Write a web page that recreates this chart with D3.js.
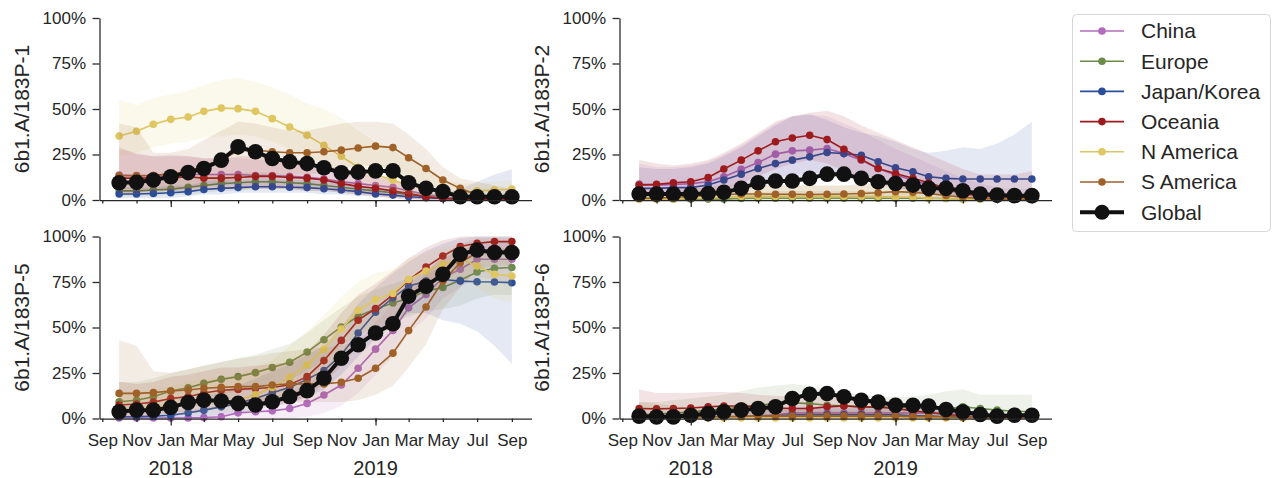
<!DOCTYPE html>
<html>
<head>
<meta charset="utf-8">
<script src="https://cdn.jsdelivr.net/npm/d3@7"></script>
<style>
  body { margin: 0; background: #fff; }
  svg { display: block; font-family: "Liberation Sans", Arial, sans-serif; }
</style>
</head>
<body>
<svg id="chart" width="1274" height="478"></svg>
<script>
// Sample months (one point per month)
const months = ["2017-10","2017-11","2017-12",
  "2018-01","2018-02","2018-03","2018-04","2018-05","2018-06","2018-07","2018-08","2018-09","2018-10","2018-11","2018-12",
  "2019-01","2019-02","2019-03","2019-04","2019-05","2019-06","2019-07","2019-08","2019-09"];

// x tick positions and labels
const tickMonths = ["2017-09","2017-11","2018-01","2018-03","2018-05","2018-07","2018-09","2018-11","2019-01","2019-03","2019-05","2019-07","2019-09"];
const tickLabels = ["Sep","Nov","Jan","Mar","May","Jul","Sep","Nov","Jan","Mar","May","Jul","Sep"];
const yearMonths = ["2018-01","2019-01"];
const yearLabels = ["2018","2019"];
const yTicks = [0, 25, 50, 75, 100];

const panelNames = ["6b1.A/183P-1","6b1.A/183P-2","6b1.A/183P-5","6b1.A/183P-6"];
const regions = ["China","Europe","Japan/Korea","Oceania","N America","S America"];
const regionColors = ["#b36bbd","#6a8e49","#2b4e9a","#9e1b1d","#dfc660","#9f6128"];

// ---- panel 1 : 6b1.A/183P-1 (percent) ----
const p1China   = [13.7,13.5,13.5,13.5,14,14,14,14,13.5,13.5,13,12.5,11.5,10,9,8,7,5,3,1.5,0.8,0.5,0.5,0.5];
const p1ChinaLo = [6,6,6,7,7,8,8,8,8,8,7,7,6,5,4,3,2,1,0,0,0,0,0,0];
const p1ChinaHi = [28,26,24,25,24,23,23,23,22,22,21,20,19,17,15,13,11,9,6,4,3,2,2,2];
const p1Europe   = [5,5,5.5,6,7,8,9,9.5,10,10,9.5,9,8,7,6,5,4,3,2,1,0.5,0.5,0.5,0.5];
const p1EuropeLo = [2,2,2,3,3,4,5,5,6,6,6,5,5,4,3,3,2,1,1,0,0,0,0,0];
const p1EuropeHi = [9,9,10,11,12,13,14,15,15,15,14,13,12,11,10,8,7,5,4,3,2,2,2,2];
const p1Japan   = [3.3,3.3,3.6,4,4.6,5.8,6.4,6.8,7.3,7.3,7,6.8,6.2,5.5,4.6,3.3,2.7,1.8,1.2,0.8,0.6,0.5,0.5,0.5];
const p1JapanLo = [1,1,1,1,2,3,3,4,4,4,4,4,3,3,2,2,1,1,0,0,0,0,0,0];
const p1JapanHi = [7,7,7,8,8,10,11,11,12,12,11,11,10,9,8,6,5,4,3,4,6,10,14,17];
const p1Oceania   = [12,12,12,12,12.8,12,12,12.4,13,13,12.4,12,11,9,7.5,6.5,5,3.5,1.8,0.8,0.5,0.3,0.3,0.3];
const p1OceaniaLo = [4,4,5,5,5,6,6,6,6,6,6,5,5,4,3,2,1,0,0,0,0,0,0,0];
const p1OceaniaHi = [29,25,24,24,24,23,23,24,24,23,22,21,19,17,15,13,11,9,6,4,3,3,2,2];
const p1NAm   = [35.2,37.8,41.6,44.3,45.6,48.7,50.5,50.2,48.7,44.7,40.1,35.6,30,24,18,14,11,8,6,4.5,3.5,5,5.5,6];
const p1NAmLo = [24,26,29,31,32,34,35,36,35,32,28,24,20,15,11,8,5,3,2,1,1,1,1,1];
const p1NAmHi = [55,52,56,58,60,63,66,67,65,62,58,53,50,45,38,32,27,22,16,11,9,9,10,11];
const p1SAm   = [13.3,13.3,13.5,14.6,15.5,19,22,27,27.5,26.5,26,26,26.5,27.4,28.6,29.6,28.8,23.2,17.3,11,6.4,2.7,2,1.5];
const p1SAmLo = [3,3,4,5,6,7,9,12,13,14,14,14,15,17,19,19,17,12,7,3,1,0,0,0];
const p1SAmHi = [42,40,26,26,28,33,38,43,42,40,38,38,40,42,43,43,42,36,28,18,12,10,8,6];
const p1Global = [9.5,9.7,11,12.8,15.1,17.3,21.9,29.2,26.5,22.8,21,20,17.7,15,15.3,16,16,9.5,6.4,4.6,1.8,1.8,1.8,1.8];

// ---- panel 2 : 6b1.A/183P-2 ----
const p2China   = [8.8,8.2,8.5,9,10,12.8,16.8,20.6,25.2,27,27.4,28.3,25.5,21.9,17.3,13.7,11,8.2,5.5,3.5,2,1.5,1,1];
const p2ChinaLo = [2,2,2,3,3,4,6,9,12,14,15,15,13,11,8,6,4,3,2,1,0,0,0,0];
const p2ChinaHi = [20,18,18,19,21,25,30,36,42,46,47,46,42,38,33,28,24,20,16,12,9,7,6,6];
const p2Europe   = [0.5,0.5,0.5,0.5,0.5,0.5,0.8,1,1,1,1,1,1,1,1,1,1,0.8,0.8,0.5,0.5,0.5,0.5,0.5];
const p2EuropeLo = [0,0,0,0,0,0,0,0,0,0,0,0,0,0,0,0,0,0,0,0,0,0,0,0];
const p2EuropeHi = [3,3,3,3,3,3,4,4,5,5,5,5,5,5,5,5,4,4,3,3,3,3,3,3];
const p2Japan   = [6.4,6.4,6.8,6.8,8.2,11,14.2,17.3,20,21.9,23.7,26.1,25.5,24.6,21,17.7,15.5,12.8,11.9,11.5,11.5,11.5,11.5,11.5];
const p2JapanLo = [1,1,1,1,2,3,5,7,9,11,12,13,12,11,9,7,5,3,2,1,1,1,1,1];
const p2JapanHi = [18,17,17,18,20,24,29,35,41,46,47,44,40,37,35,32,28,26,27,29,28,31,36,43];
const p2Oceania   = [8.2,8.6,9.5,10,12.4,17,21.9,27,32,34.1,35.6,33.2,27.9,22.3,17.3,14.6,11.9,9.5,6.4,3.6,2.4,1.8,1.8,1.8];
const p2OceaniaLo = [2,2,3,3,4,6,9,13,17,20,22,20,16,12,9,7,5,3,2,1,0,0,0,0];
const p2OceaniaHi = [22,20,19,20,22,26,31,37,43,46,48,49,46,41,37,33,29,25,21,17,14,14,14,16];
const p2NAm   = [0.5,0.5,0.5,0.8,1,1.5,2,2,2,2,2,2,2,2,2,1.5,1.5,1,1,0.5,0.5,0.5,0.5,0.5];
const p2NAmLo = [0,0,0,0,0,0,0,0,0,0,0,0,0,0,0,0,0,0,0,0,0,0,0,0];
const p2NAmHi = [3,3,3,4,5,7,8,8,8,8,8,8,8,8,8,7,6,5,4,3,2,2,2,2];
const p2SAm   = [1,1,1.5,2,2.5,3,3.3,3.3,3.2,3.2,3,3.2,3.3,3.6,4,4.6,4.2,3.6,2.5,1.5,0.8,0.5,0.5,0.5];
const p2SAmLo = [0,0,0,0,0,0,1,1,1,1,1,1,1,1,1,1,1,1,0,0,0,0,0,0];
const p2SAmHi = [5,5,5,6,7,8,8,8,8,8,8,8,8,9,9,10,9,8,6,4,3,2,2,2];
const p2Global = [3.3,3.3,3.3,3.3,3.6,4.2,6.4,9.5,10.4,10.4,11.9,14.2,14.2,11.9,10,9.1,8.2,6.4,6.4,5.1,3.3,2.7,2.4,2.4];

// ---- panel 3 : 6b1.A/183P-5 ----
const p3China   = [0.3,0.3,0.3,0.3,0.3,0.5,1,3.1,3.7,4.2,5.5,8.3,12.9,18.4,27.6,38.1,48.4,60.8,68.1,77.3,82,87.5,87.5,87.5];
const p3ChinaLo = [0,0,0,0,0,0,0,0,0,0,0,1,3,7,14,24,34,47,55,66,72,78,76,74];
const p3ChinaHi = [5,5,5,5,5,6,8,10,11,12,14,19,25,32,42,53,63,74,81,88,92,96,97,97];
const p3Europe   = [9.2,10,12,15.1,16.9,19.3,21.5,23,25.2,28,30.9,36.5,43.3,50.3,56.2,60.2,63.5,66,70,72,76,80.5,82.5,83];
const p3EuropeLo = [3,3,5,7,9,11,13,15,16,19,21,26,32,40,46,50,53,56,59,60,62,66,68,68];
const p3EuropeHi = [20,20,22,25,27,29,31,33,35,38,41,47,54,61,67,71,74,77,80,83,88,92,93,94];
const p3Japan   = [1,1,1.3,1.8,3.1,4.6,6.4,8.3,11,14.2,17.1,21.5,26.3,35,47,58.4,66.3,72.7,75.5,76.4,75.5,75.1,75,74.6];
const p3JapanLo = [0,0,0,0,0,1,2,3,5,7,9,12,16,24,34,44,52,58,58,54,52,48,40,30];
const p3JapanHi = [6,6,6,7,9,12,15,18,22,26,30,35,40,50,63,72,80,86,92,96,99,100,100,100];
const p3Oceania   = [7.4,8,9,11,12,14,15.5,16,16.5,17,18.5,23,31.8,42.9,54,60.4,68,76,83.2,89.3,94.5,96.3,97.2,97.2];
const p3OceaniaLo = [1,1,2,3,4,5,6,7,7,7,8,12,19,29,40,46,55,63,71,79,86,89,91,91];
const p3OceaniaHi = [20,19,20,23,24,26,28,28,29,30,31,37,46,58,68,74,81,88,94,98,100,100,100,100];
const p3NAm   = [5,5,6,7,8,9,9.5,10,13,17,22.6,29.5,38.1,49.2,59.5,65.4,68.7,76.4,81,84.7,87.8,83.8,79.2,78.3];
const p3NAmLo = [1,1,1,2,2,3,3,4,5,7,11,16,24,34,45,51,55,64,70,74,78,72,66,64];
const p3NAmHi = [15,15,16,18,20,22,23,24,28,32,40,48,57,67,75,80,82,88,91,94,96,94,91,90];
const p3SAm   = [13.8,13.8,14.2,15.1,15.7,16.6,17.1,17.5,17.5,18.4,19,19,19,19.9,22.1,27.6,35.9,48.3,61.3,75.5,85.6,91.2,92,92];
const p3SAmLo = [4,4,5,6,7,7,8,8,8,9,9,9,9,9,10,13,18,28,41,60,72,82,84,84];
const p3SAmHi = [43,40,26,25,27,29,31,33,34,36,37,38,39,40,43,48,56,68,80,90,96,99,99,99];
const p3Global = [3.7,4.6,4.6,6.1,8.8,10.1,9.6,8.3,7.4,9.2,12,15.3,22.1,33.1,40.5,47,52.1,67.2,72.7,79.2,90.2,92.6,91.2,91.2];

// ---- panel 4 : 6b1.A/183P-6 ----
const p4China   = [0.5,0.5,0.5,0.5,0.5,1,1,1.5,2,3,3,3,3,3,3,3,3,3,2.5,2,1.5,1,0.5,0.5];
const p4ChinaLo = [0,0,0,0,0,0,0,0,0,0,0,0,0,0,0,0,0,0,0,0,0,0,0,0];
const p4ChinaHi = [3,3,3,3,3,4,4,5,6,7,7,7,7,7,7,7,7,7,6,5,4,3,3,3];
const p4Europe   = [1.8,2.5,3,3.5,4.6,5,6.4,7.3,8.2,8.6,8.2,7.3,7,6.4,6.4,6.2,6,5.5,5.2,6.4,5.5,4.6,4,3.7];
const p4EuropeLo = [0,0,0,1,1,1,2,2,3,3,3,2,2,2,2,2,2,1,1,1,1,1,0,0];
const p4EuropeHi = [9,9,10,11,12,13,15,17,18,19,18,16,14,13,12,12,12,13,15,16,13,13,13,13];
const p4Japan   = [0.5,0.5,0.5,0.5,0.5,1,1,1.5,1.5,2,2,2,2,2,2,2,1.5,1.5,1,1,0.5,0.5,0.5,0.5];
const p4JapanLo = [0,0,0,0,0,0,0,0,0,0,0,0,0,0,0,0,0,0,0,0,0,0,0,0];
const p4JapanHi = [3,3,3,3,3,4,4,5,5,6,6,6,6,6,6,6,5,5,4,4,3,3,3,3];
const p4Oceania   = [5.5,5.3,5.5,5.8,6.4,6.9,6.9,6.4,5.8,5.5,5.5,6.4,6.9,6.4,6.2,5.5,4.2,3.3,2.4,0.9,0.5,0.5,0.5,0.5];
const p4OceaniaLo = [1,1,1,1,2,2,2,2,2,2,2,2,2,2,2,2,1,1,0,0,0,0,0,0];
const p4OceaniaHi = [16,14,14,14,14.5,14.5,14,13,12.5,12,12,12.5,12,11,10,9,8,6,4,2,1,1,1,1];
const p4NAm   = [0.3,0.3,0.3,0.3,0.3,0.3,0.3,0.3,0.3,0.3,0.3,0.3,0.3,0.3,0.3,0.3,0.3,0.3,0.3,0.3,0.3,0.3,0.3,0.3];
const p4NAmLo = [0,0,0,0,0,0,0,0,0,0,0,0,0,0,0,0,0,0,0,0,0,0,0,0];
const p4NAmHi = [2,2,2,2,2,2,2,2,2,2,2,2,2,2,2,2,2,2,2,2,2,2,2,2];
const p4SAm   = [0.5,0.5,0.5,0.8,1,1,1.3,1.3,1.3,1.3,1.3,1.3,1.3,1.3,1.3,1.3,1,1,0.8,0.5,0.5,0.5,0.5,0.5];
const p4SAmLo = [0,0,0,0,0,0,0,0,0,0,0,0,0,0,0,0,0,0,0,0,0,0,0,0];
const p4SAmHi = [9,8,7,6,5,5,5,5,5,5,5,5,5,5,5,5,4,4,3,2,2,2,2,2];
const p4Global = [1.3,0.9,0.9,1.8,2.7,3.7,4.6,5.5,6.4,11,13.3,13.7,11.9,10,9.1,7.3,7.3,6.8,4.9,3.7,2.2,1.3,1.8,1.8];

// table used for drawing: per panel, per region [mean, low, high]
const panelSeries = [
  [[p1China,p1ChinaLo,p1ChinaHi],[p1Europe,p1EuropeLo,p1EuropeHi],[p1Japan,p1JapanLo,p1JapanHi],
   [p1Oceania,p1OceaniaLo,p1OceaniaHi],[p1NAm,p1NAmLo,p1NAmHi],[p1SAm,p1SAmLo,p1SAmHi]],
  [[p2China,p2ChinaLo,p2ChinaHi],[p2Europe,p2EuropeLo,p2EuropeHi],[p2Japan,p2JapanLo,p2JapanHi],
   [p2Oceania,p2OceaniaLo,p2OceaniaHi],[p2NAm,p2NAmLo,p2NAmHi],[p2SAm,p2SAmLo,p2SAmHi]],
  [[p3China,p3ChinaLo,p3ChinaHi],[p3Europe,p3EuropeLo,p3EuropeHi],[p3Japan,p3JapanLo,p3JapanHi],
   [p3Oceania,p3OceaniaLo,p3OceaniaHi],[p3NAm,p3NAmLo,p3NAmHi],[p3SAm,p3SAmLo,p3SAmHi]],
  [[p4China,p4ChinaLo,p4ChinaHi],[p4Europe,p4EuropeLo,p4EuropeHi],[p4Japan,p4JapanLo,p4JapanHi],
   [p4Oceania,p4OceaniaLo,p4OceaniaHi],[p4NAm,p4NAmLo,p4NAmHi],[p4SAm,p4SAmLo,p4SAmHi]]
];
const panelGlobal = [p1Global, p2Global, p3Global, p4Global];

// layout
const panelW = 432, panelH = 182;
const panelPos = [[99.5, 18], [619.5, 18], [99.5, 236.5], [619.5, 236.5]];
const ink = "#262626";

const parse = d3.timeParse("%Y-%m");
const dates = months.map(parse);
// 5% padding on both sides, like the default axes margins
const span = dates[dates.length - 1] - dates[0];
const x = d3.scaleTime()
  .domain([new Date(+dates[0] - span * 0.05), new Date(+dates[dates.length - 1] + span * 0.05)])
  .range([0, panelW]);
const y = d3.scaleLinear().domain([0, 100]).range([panelH, 0]);

const svg = d3.select("#chart");
svg.append("rect").attr("width", 1274).attr("height", 478).attr("fill", "#fff");

panelNames.forEach((name, p) => {
  const g = svg.append("g").attr("transform", `translate(${panelPos[p][0]},${panelPos[p][1]})`);
  const bottomRow = p >= 2;

  // regional bands and lines
  panelSeries[p].forEach((s, r) => {
    const [mean, lo, hi] = s;
    const area = d3.area()
      .x((d, i) => x(dates[i]))
      .y0((d, i) => y(lo[i]))
      .y1((d, i) => y(hi[i]));
    g.append("path").datum(mean).attr("d", area)
      .attr("fill", regionColors[r]).attr("fill-opacity", 0.12);

    const line = d3.line().x((d, i) => x(dates[i])).y(d => y(d));
    g.append("path").datum(mean).attr("d", line)
      .attr("fill", "none").attr("stroke", regionColors[r]).attr("stroke-width", 1.6);
    g.append("g").selectAll("circle").data(mean).join("circle")
      .attr("cx", (d, i) => x(dates[i])).attr("cy", d => y(d)).attr("r", 3.8)
      .attr("fill", regionColors[r]);
  });

  // global line on top
  const gl = panelGlobal[p];
  g.append("path").datum(gl)
    .attr("d", d3.line().x((d, i) => x(dates[i])).y(d => y(d)))
    .attr("fill", "none").attr("stroke", "#111").attr("stroke-width", 4);
  g.append("g").selectAll("circle").data(gl).join("circle")
    .attr("cx", (d, i) => x(dates[i])).attr("cy", d => y(d)).attr("r", 7.8)
    .attr("fill", "#111");

  // y axis
  const yAxis = g.append("g").call(d3.axisLeft(y).tickValues(yTicks)
      .tickFormat(d => d + "%").tickSize(7).tickPadding(6.5).tickSizeOuter(0));
  yAxis.selectAll("text").attr("font-size", 17).attr("fill", ink).attr("font-family", null);

  // x axis: two-month ticks (labels on the bottom row only)
  const xAxis = g.append("g").attr("transform", `translate(0,${panelH})`)
    .call(d3.axisBottom(x).tickValues(tickMonths.map(parse))
      .tickFormat((d, i) => bottomRow ? tickLabels[i] : "")
      .tickSize(3.5).tickPadding(11.5).tickSizeOuter(0));
  xAxis.selectAll("text").attr("font-size", 17).attr("fill", ink).attr("font-family", null);

  // longer ticks at each January
  const xMajor = g.append("g").attr("transform", `translate(0,${panelH})`)
    .call(d3.axisBottom(x).tickValues(yearMonths.map(parse)).tickFormat("").tickSize(7).tickSizeOuter(0));
  xMajor.select(".domain").remove();

  [yAxis, xAxis, xMajor].forEach(a => {
    a.selectAll("line").attr("stroke", ink).attr("stroke-width", 1.25);
    a.selectAll(".domain").attr("stroke", ink).attr("stroke-width", 1.25);
  });

  if (bottomRow) {
    g.append("g").selectAll("text").data(yearLabels).join("text")
      .attr("x", (d, i) => x(parse(yearMonths[i])))
      .attr("y", 238)
      .attr("text-anchor", "middle").attr("font-size", 20).attr("fill", ink)
      .text(d => d);
  }

  // panel label
  g.append("text")
    .attr("transform", `translate(-77.5,${panelH / 2}) rotate(-90)`)
    .attr("text-anchor", "middle").attr("dy", "0.35em")
    .attr("font-size", 21).attr("fill", ink)
    .text(name);
});

// legend
const legend = svg.append("g").attr("transform", "translate(1072,14)");
legend.append("rect").attr("x", 0.5).attr("y", 0.5).attr("width", 198).attr("height", 217)
  .attr("rx", 4).attr("fill", "#fff").attr("stroke", "#d6d6d6").attr("stroke-width", 1);
const legendItems = regions.map((r, i) => ({ name: r, color: regionColors[i], global: false }))
  .concat([{ name: "Global", color: "#111", global: true }]);
const item = legend.selectAll(".item").data(legendItems).join("g")
  .attr("class", "item")
  .attr("transform", (d, i) => `translate(0,${17 + i * 30.2})`);
item.append("line").attr("x1", 8).attr("x2", 52)
  .attr("stroke", d => d.color).attr("stroke-width", d => d.global ? 4 : 1.6);
item.append("circle").attr("cx", 30).attr("r", d => d.global ? 7.5 : 3.8).attr("fill", d => d.color);
item.append("text").attr("x", 69).attr("dy", "0.35em")
  .attr("font-size", 21).attr("fill", ink).text(d => d.name);
</script>
</body>
</html>
